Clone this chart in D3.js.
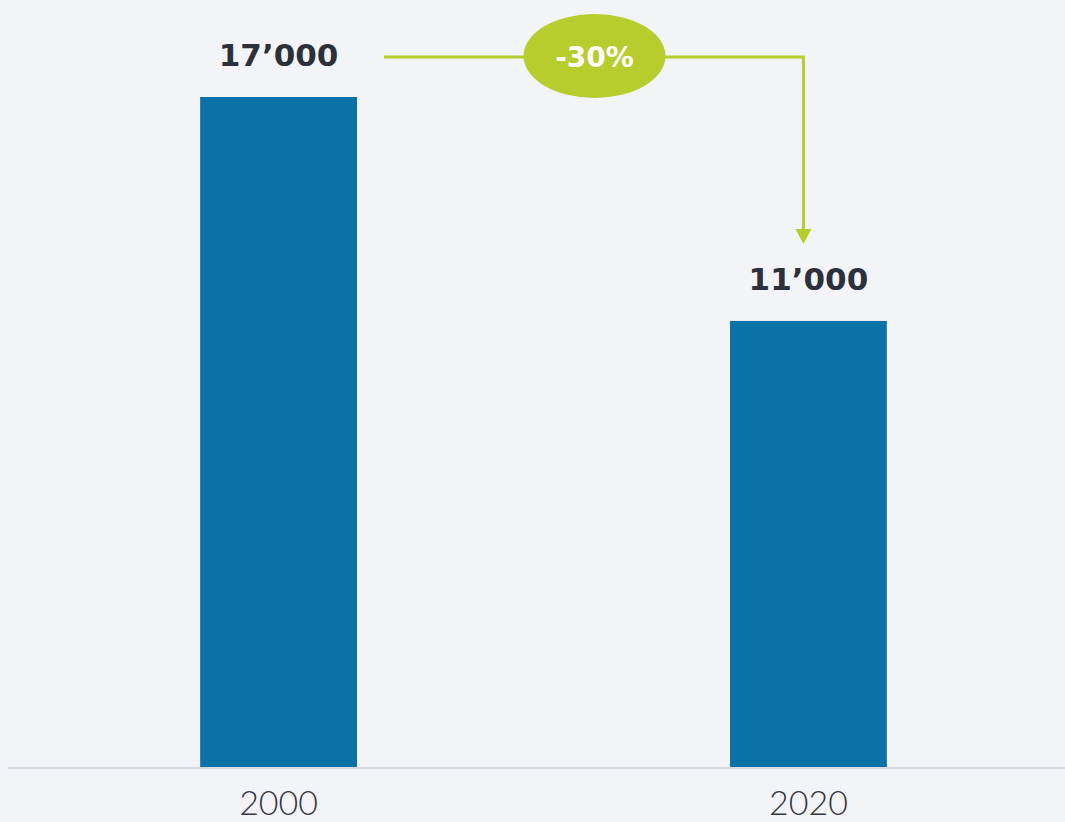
<!DOCTYPE html>
<html>
<head>
<meta charset="utf-8">
<script src="https://cdn.jsdelivr.net/npm/d3@7"></script>
<style>
  html, body { margin: 0; padding: 0; background: #f3f4f8; }
  .chart { width: 1065px; height: 822px; }
</style>
</head>
<body>
<div class="chart"></div>
<script>
const years = ["2000", "2020"];
const values = [17000, 11000];
const valueLabels = ["17’000", "11’000"];
const changeLabel = "-30%";

const width = 1065,
  height = 822;
const baseY = 767;

var svg = d3
  .select(".chart")
  .append("svg")
  .attr("width", width)
  .attr("height", height);

svg.append("rect").attr("width", width).attr("height", height).attr("fill", "#f3f4f8");

// band positions for the two bars
var x = d3
  .scaleBand()
  .domain(years)
  .range([11, 1076])
  .paddingInner(0.704)
  .paddingOuter(0.357);

// y scale (picture isn't strictly proportional, so the domain starts a bit below 0)
var y = d3.scaleLinear().domain([-950, 17000]).range([baseY, 97]);

// baseline
svg
  .append("line")
  .attr("x1", 8)
  .attr("x2", width)
  .attr("y1", baseY + 1)
  .attr("y2", baseY + 1)
  .attr("stroke", "#d8dae2")
  .attr("stroke-width", 2);

// bars
svg
  .selectAll("rect.bar")
  .data(values)
  .enter()
  .append("rect")
  .attr("class", "bar")
  .attr("x", (d, i) => x(years[i]))
  .attr("y", (d) => y(d))
  .attr("width", x.bandwidth())
  .attr("height", (d) => baseY - y(d))
  .attr("fill", "#0a72a7");

// value labels above bars
svg
  .selectAll("text.val")
  .data(values)
  .enter()
  .append("text")
  .attr("class", "val")
  .attr("x", (d, i) => x(years[i]) + x.bandwidth() / 2)
  .attr("y", (d) => y(d) - 31)
  .attr("text-anchor", "middle")
  .style("font-family", "'DejaVu Sans', sans-serif")
  .style("font-weight", "bold")
  .style("font-size", "31px")
  .style("fill", "#2b303b")
  .text((d, i) => valueLabels[i]);

// year labels
svg
  .selectAll("text.year")
  .data(years)
  .enter()
  .append("text")
  .attr("class", "year")
  .attr("x", (d) => x(d) + x.bandwidth() / 2)
  .attr("y", baseY + 48)
  .attr("text-anchor", "middle")
  .style("font-family", "Lato, sans-serif")
  .style("font-weight", 300)
  .style("font-size", "34px")
  .style("fill", "#33373f")
  .text((d) => d);

// change connector
var green = "#b6cd2d";
var lineY = y(values[0]) - 40;
var x2c = x(years[1]) + x.bandwidth() / 2 - 5;
var tipY = y(values[1]) - 77;

svg
  .append("path")
  .attr(
    "d",
    "M" + (x(years[0]) + x.bandwidth() + 27) + "," + lineY +
      " H" + x2c + " V" + (tipY - 12)
  )
  .attr("fill", "none")
  .attr("stroke", green)
  .attr("stroke-width", 3);

svg
  .append("path")
  .attr(
    "d",
    "M" + (x2c - 8) + "," + (tipY - 15) + " L" + (x2c + 8) + "," + (tipY - 15) +
      " L" + x2c + "," + tipY + " Z"
  )
  .attr("fill", green);

var midX = (x(years[0]) + x(years[1]) + x.bandwidth()) / 2 + 51;
svg
  .append("ellipse")
  .attr("cx", midX)
  .attr("cy", lineY - 1)
  .attr("rx", 71)
  .attr("ry", 42)
  .attr("fill", green);

svg
  .append("text")
  .attr("x", midX)
  .attr("y", lineY + 10)
  .attr("text-anchor", "middle")
  .style("font-family", "'DejaVu Sans', sans-serif")
  .style("font-weight", "bold")
  .style("font-size", "28px")
  .style("fill", "#ffffff")
  .text(changeLabel);
</script>
</body>
</html>
